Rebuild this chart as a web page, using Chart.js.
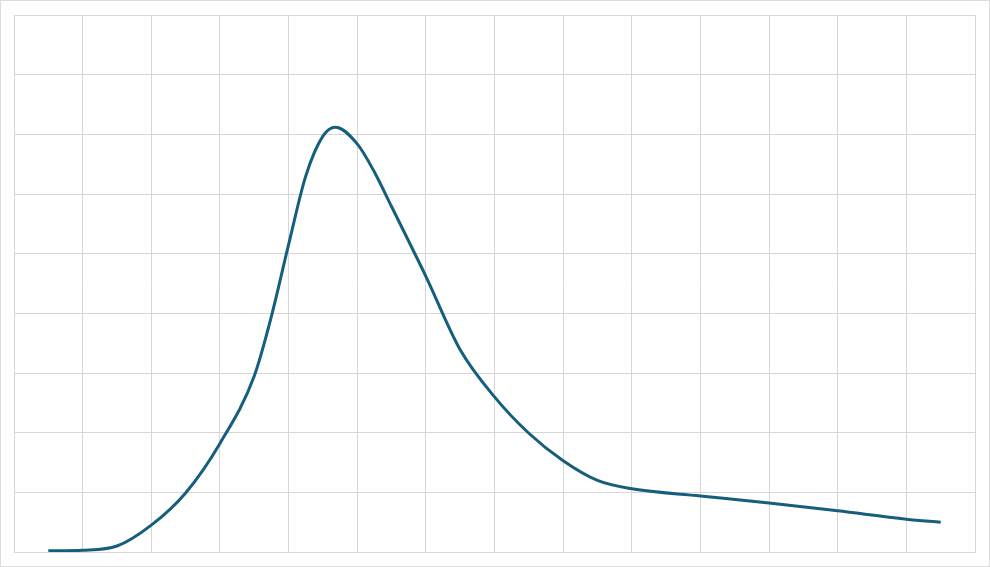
<!DOCTYPE html>
<html>
<head>
<meta charset="utf-8">
<script src="https://cdn.jsdelivr.net/npm/chart.js@4/dist/chart.umd.min.js"></script>
<style>
  html, body { margin: 0; padding: 0; background: #fff; }
  #wrap { width: 988px; height: 565px; border: 1px solid #dcdcdc; }
</style>
</head>
<body>
<div id="wrap"><canvas id="chart"></canvas></div>
<script>
// x positions (grid units) and curve values
const xValues = [0.5, 1, 1.5, 2, 2.5, 3, 3.5, 3.75, 4, 4.25, 4.5, 4.68, 5, 5.25, 5.5,
                 6, 6.5, 7, 7.5, 8, 8.5, 9, 10, 11, 12, 13, 13.5];
const yValues = [0.02, 0.03, 0.1, 0.45, 0.99, 1.82, 2.95, 3.95, 5.15, 6.3, 6.97, 7.12, 6.84, 6.37, 5.79,
                 4.62, 3.39, 2.6, 1.99, 1.53, 1.2, 1.06, 0.94, 0.82, 0.69, 0.55, 0.5];

const points = xValues.map((x, i) => ({ x: x, y: yValues[i] }));

const ctx = document.getElementById('chart');
new Chart(ctx, {
    type: 'line',
    data: {
        datasets: [{
            data: points,
            borderColor: '#155e7e',
            borderWidth: 3,
            pointRadius: 0,
            fill: false,
            cubicInterpolationMode: 'monotone'
        }]
    },
    options: {
        responsive: true,
        maintainAspectRatio: false,
        animation: false,
        layout: { padding: { left: 13, right: 14, top: 14, bottom: 14 } },
        plugins: { legend: { display: false }, tooltip: { enabled: false } },
        scales: {
            x: {
                type: 'linear',
                min: 0,
                max: 14,
                ticks: { display: false, stepSize: 1 },
                grid: { color: '#d6d6d6', drawTicks: false },
                border: { color: '#d6d6d6' }
            },
            y: {
                min: 0,
                max: 9,
                ticks: { display: false, stepSize: 1 },
                grid: { color: '#d6d6d6', drawTicks: false },
                border: { color: '#d6d6d6' }
            }
        }
    }
});
</script>
</body>
</html>
